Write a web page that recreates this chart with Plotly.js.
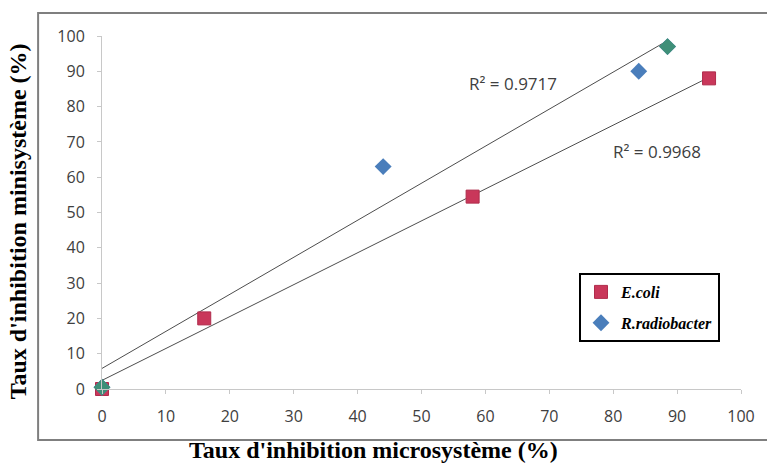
<!DOCTYPE html>
<html>
<head>
<meta charset="utf-8">
<script src="https://cdn.plot.ly/plotly-3.0.1.min.js"></script>
<style>html,body{margin:0;padding:0;background:#fff;}#chart{width:767px;height:464px;}</style>
</head>
<body>
<div id="chart"></div>
<script>
// Data
var ecoliX = [0, 16, 58, 95];
var ecoliY = [0, 20, 54.5, 88];
var radioX = [0, 44, 84, 88.5];
var radioY = [0.5, 63, 90, 97];
var xTicks = [0, 10, 20, 30, 40, 50, 60, 70, 80, 90, 100];
var yTicks = [0, 10, 20, 30, 40, 50, 60, 70, 80, 90, 100];
var r2Labels = ['R² = 0.9717', 'R² = 0.9968'];
// indices of R.radiobacter points drawn in the overlapping (green) colour
var greenIdx = [0, 3];

function fit(xs, ys) {
  var n = xs.length, mx = 0, my = 0;
  for (var i = 0; i < n; i++) { mx += xs[i]; my += ys[i]; }
  mx /= n; my /= n;
  var sxy = 0, sxx = 0;
  for (var j = 0; j < n; j++) { sxy += (xs[j]-mx)*(ys[j]-my); sxx += (xs[j]-mx)*(xs[j]-mx); }
  var b = sxy / sxx, a = my - b*mx;
  var x0 = Math.min.apply(null, xs), x1 = Math.max.apply(null, xs);
  return {x: [x0, x1], y: [a + b*x0, a + b*x1]};
}
var fE = fit(ecoliX, ecoliY);
var fR = fit(radioX, radioY);

var traces = [
  {x: fR.x, y: fR.y, mode: 'lines', line: {color: '#4d4d4d', width: 1}, showlegend: false, hoverinfo: 'skip'},
  {x: fE.x, y: fE.y, mode: 'lines', line: {color: '#4d4d4d', width: 1}, showlegend: false, hoverinfo: 'skip'},
  {x: ecoliX, y: ecoliY, name: 'E.coli', legendgroup: 'a', mode: 'markers', cliponaxis: false,
   marker: {symbol: 'square', size: 13, color: '#c9375a', line: {color: '#b02c4c', width: 1}}},
  {x: radioX, y: radioY, name: 'R.radiobacter', legendgroup: 'b', mode: 'markers', cliponaxis: false,
   marker: {symbol: 'diamond', size: 13, color: '#4a7ebb', line: {width: 0}}},
  {x: greenIdx.map(function(i){return radioX[i];}), y: greenIdx.map(function(i){return radioY[i];}),
   mode: 'markers', showlegend: false, cliponaxis: false,
   marker: {symbol: 'diamond', size: 13, color: '#3f8f78', line: {width: 0}}}
];

var axisCommon = {
  range: [0, 100], showgrid: false, zeroline: false, showline: true,
  linecolor: '#c8c8c8', linewidth: 1, ticks: 'outside', ticklen: 4, tickcolor: '#c8c8c8',
  tickfont: {family: 'Open Sans, sans-serif', size: 16, color: '#404040'},
  ticklabelstandoff: 9, fixedrange: true
};

var layout = {
  width: 767, height: 464,
  margin: {l: 102, r: 26, t: 36, b: 75},
  paper_bgcolor: '#ffffff', plot_bgcolor: '#ffffff',
  xaxis: Object.assign({}, axisCommon, {tickvals: xTicks, ticktext: xTicks.map(String)}),
  yaxis: Object.assign({}, axisCommon, {tickvals: yTicks, ticktext: yTicks.map(String)}),
  showlegend: true,
  legend: {
    x: (579-102)/639, y: (389-273)/353, xanchor: 'left', yanchor: 'top',
    bgcolor: '#ffffff', bordercolor: '#000000', borderwidth: 2,
    font: {family: 'Liberation Serif, serif', size: 16, color: '#000', weight: 'bold', style: 'italic'},
    itemwidth: 30, tracegroupgap: 7, traceorder: 'grouped'
  },
  shapes: [
    {type: 'rect', xref: 'paper', yref: 'paper', x0: -0.1, x1: 1.045, y0: -0.1445, y1: 1.065,
     line: {color: '#7f7f7f', width: 2}, fillcolor: 'rgba(0,0,0,0)', layer: 'below'}
  ],
  annotations: [
    {text: r2Labels[0], x: 64.3, y: 86.5, xref: 'x', yref: 'y', showarrow: false,
     font: {family: 'Open Sans, sans-serif', size: 17, color: '#404040'}},
    {text: r2Labels[1], x: 86.8, y: 67.2, xref: 'x', yref: 'y', showarrow: false,
     font: {family: 'Open Sans, sans-serif', size: 17, color: '#404040'}},
    {text: "Taux d'inhibition microsystème (%)", xref: 'paper', yref: 'paper',
     x: (373-102)/639, y: -0.18, yanchor: 'middle', xanchor: 'center', yshift: 3, showarrow: false,
     font: {family: 'Liberation Serif, serif', size: 24, color: '#000', weight: 'bold'}},
    {text: "Taux d'inhibition minisystème (%)", xref: 'paper', yref: 'paper',
     x: (18-102)/639, y: 0.475, textangle: -90, xanchor: 'center', yanchor: 'middle', showarrow: false,
     font: {family: 'Liberation Serif, serif', size: 24, color: '#000', weight: 'bold'}}
  ]
};

Plotly.newPlot('chart', traces, layout, {displayModeBar: false, staticPlot: true});
</script>
</body>
</html>
